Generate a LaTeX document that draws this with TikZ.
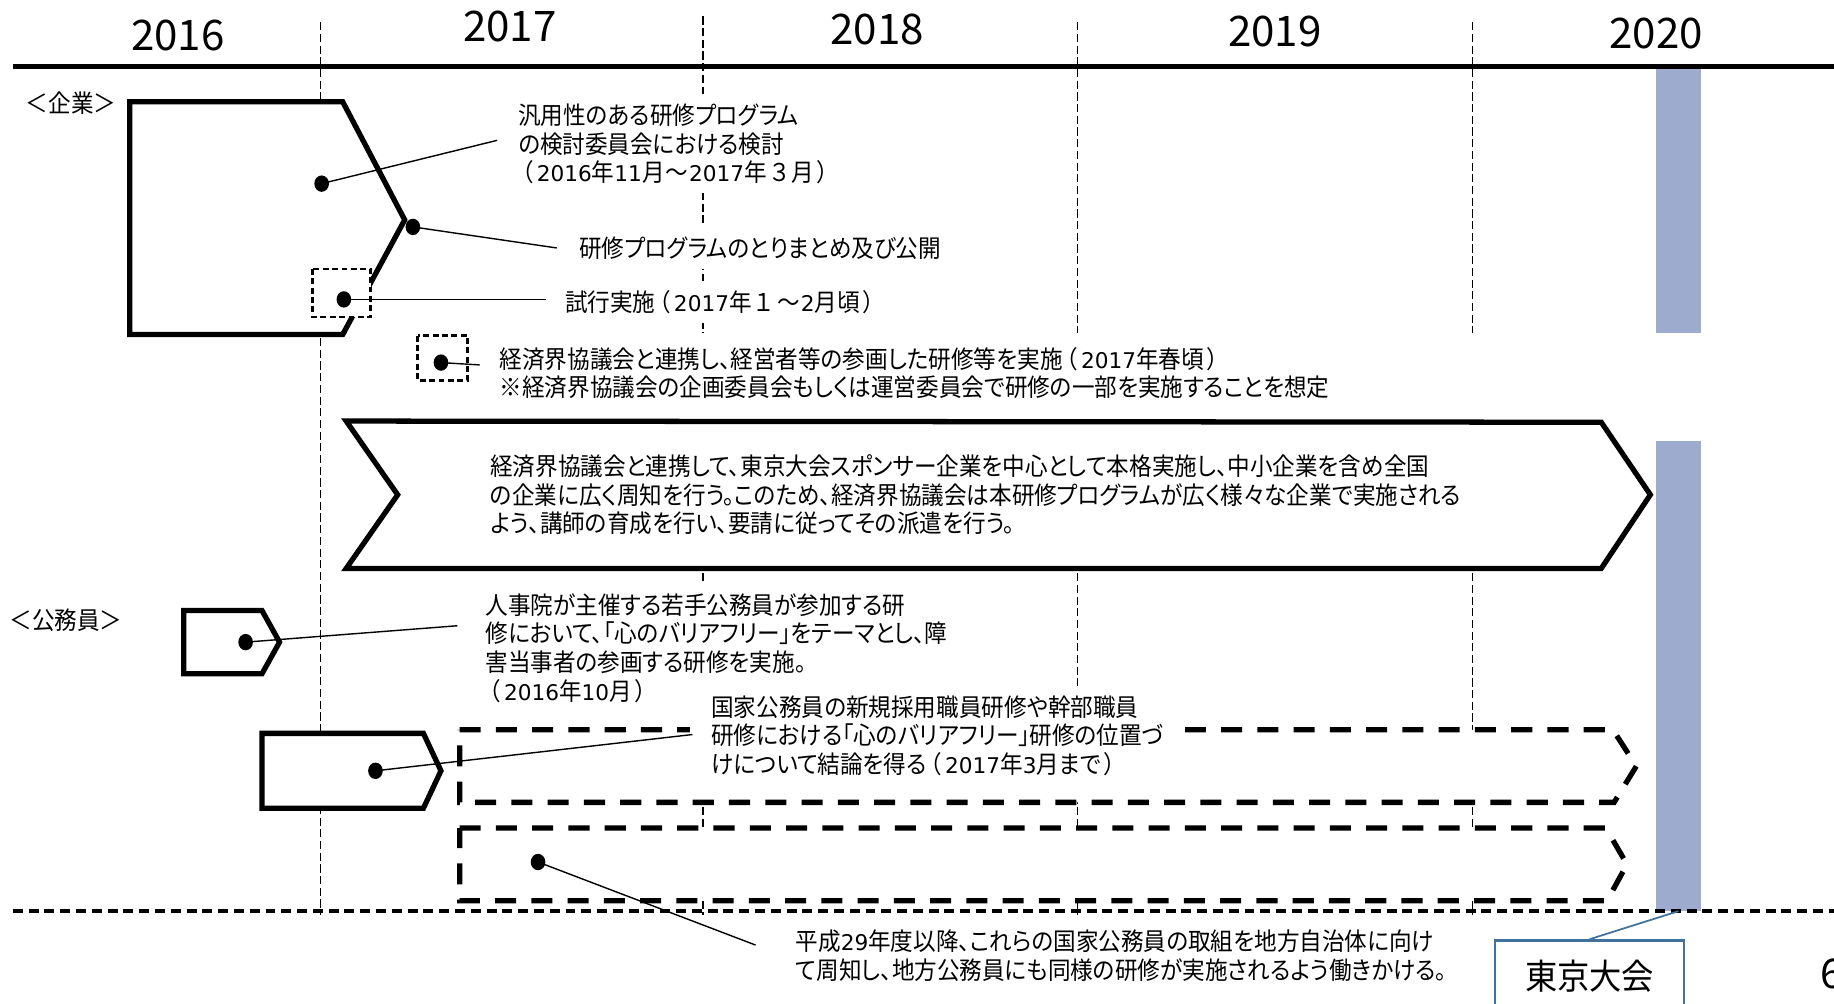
\documentclass[tikz,border=0pt]{standalone}
\usepackage{fontspec}
\setmainfont{Noto Sans CJK JP}[RawFeature=+palt,FakeStretch=0.92]
\newfontfamily\yrfont{Noto Sans CJK JP}
\newfontfamily\dgfont{DejaVu Sans}
\usetikzlibrary{shapes.geometric}
\newcommand\jlp{\makebox[0.75em][c]{（}}
\newcommand\jrp{\makebox[0.75em][c]{）}}
\newcommand\jfw[1]{\makebox[1em][c]{#1}}
\newcommand\dg[1]{{\dgfont\fontsize{18.5}{24.5}\selectfont #1}}
\definecolor{colblue}{RGB}{156,171,206}
\definecolor{tkblue}{RGB}{65,113,156}
\begin{document}
\begin{tikzpicture}[x=1pt,y=-1pt,
  vline/.style={line width=1.1pt,dash pattern=on 7pt off 3pt},
  solidshape/.style={draw,line width=4.5pt,fill=white,line join=miter},
  dshape/.style={draw,line width=4.5pt,fill=white,dash pattern=on 18pt off 13pt},
  dbox/.style={draw,line width=2.5pt,fill=white,dash pattern=on 5pt off 3pt},
  dot/.style={ellipse,fill=black,minimum width=12.5pt,minimum height=14pt,inner sep=0pt},
  conn/.style={line width=1.2pt},
  txt/.style={font=\fontsize{21}{24.5}\selectfont,align=left,anchor=west,fill=white,inner xsep=9pt,inner ysep=8pt},
  year/.style={font=\yrfont\fontsize{36}{40}\selectfont,inner sep=0pt},
  lab/.style={font=\fontsize{21}{24}\selectfont,anchor=west,inner sep=0pt}]
\useasboundingbox (0,0) rectangle (1568,858);
\clip (0,0) rectangle (1568,858);
% year separators
\draw[vline] (274,19) -- (274,782);
\draw[vline] (601,14) -- (601,285) (601,360) -- (601,782);
\draw[vline] (921,19) -- (921,285) (921,360) -- (921,782);
\draw[vline] (1259,19) -- (1259,285) (1259,360) -- (1259,782);
% 2020 column
\fill[colblue] (1416,58) rectangle (1454,285);
\fill[colblue] (1416,377) rectangle (1454,779);
% axis lines
\draw[line width=4.5pt] (11,57) -- (1568,57);
\draw[line width=3pt,dash pattern=on 8.5pt off 5pt] (11,779) -- (1568,779);
% shapes
\draw[solidshape] (111,87) -- (293,87) -- (346,188) -- (293,286) -- (111,286) -- cycle;
\draw[solidshape] (296,360) -- (1369,361) -- (1411,423) -- (1369,486) -- (296,486) -- (340,423) -- cycle;
\draw[solidshape] (157,522) -- (224,522) -- (239,549) -- (224,576) -- (157,576) -- cycle;
\draw[solidshape] (224,627) -- (362,627) -- (377,659) -- (362,691) -- (224,691) -- cycle;
\draw[dshape] (393,624) -- (1379,624) -- (1399,655) -- (1380,686) -- (393,686) -- cycle;
\draw[dshape] (393,708) -- (1373,708) -- (1391,739) -- (1374,770) -- (393,770) -- cycle;
\draw[dbox] (267,230) rectangle (317,271);
\draw[dbox] (357,287) rectangle (400,325);
% dots
\node[dot] (d1) at (275,157) {};
\node[dot] (d2) at (353,194) {};
\node[dot] (d3) at (294,256) {};
\node[dot] (d4) at (377,310) {};
\node[dot] (d6) at (210,549) {};
\node[dot] (d7) at (321,659) {};
\node[dot] (d8) at (460,737) {};
% texts
\node[txt] (t1) at (434,123) {汎用性のある研修プログラム\\の検討委員会における検討\\\jlp\dg{2016}年\dg{11}月\jfw{～}\dg{2017}年\jfw{３}月\jrp};
\node[txt] (t2) at (486,212) {研修プログラムのとりまとめ及び公開};
\node[txt] (t3) at (474,258) {試行実施\jlp\dg{2017}年\jfw{１}\jfw{～}\dg{2}月頃\jrp};
\node[txt] (t4) at (418,319) {経済界協議会と連携し、経営者等の参画した研修等を実施\jlp\dg{2017}年春頃\jrp\\※経済界協議会の企画委員会もしくは運営委員会で研修の一部を実施することを想定};
\node[txt] (t5) at (410,423) {経済界協議会と連携して、東京大会スポンサー企業を中心として本格実施し、中小企業を含め全国\\の企業に広く周知を行う。このため、経済界協議会は本研修プログラムが広く様々な企業で実施される\\よう、講師の育成を行い、要請に従ってその派遣を行う。};
\node[txt] (t6) at (406,554) {人事院が主催する若手公務員が参加する研\\修において、「心のバリアフリー」をテーマとし、障\\害当事者の参画する研修を実施。\\\jlp\dg{2016}年\dg{10}月\jrp};
\node[txt,inner xsep=18pt] (t7) at (590,629) {国家公務員の新規採用職員研修や幹部職員\\研修における「心のバリアフリー」研修の位置づ\\けについて結論を得る\jlp\dg{2017}年\dg{3}月まで\jrp};
\node[txt] (t8) at (671,817) {平成\dg{29}年度以降、これらの国家公務員の取組を地方自治体に向け\\て周知し、地方公務員にも同様の研修が実施されるよう働きかける。};
% connector ends
\coordinate (c1) at (425,120);
\coordinate (c2) at (476,212);
\coordinate (c3) at (467,256);
\coordinate (c4) at (410,312);
\coordinate (c6) at (391,535);
\coordinate (c7) at (592,628);
\coordinate (c8) at (646,808);
\draw[conn] (d1.center) -- (c1);
\draw[conn] (d2.center) -- (c2);
\draw[conn] (d3.center) -- (c3);
\draw[conn] (d4.center) -- (c4);
\draw[conn] (d6.center) -- (c6);
\draw[conn] (d7.center) -- (c7);
\draw[conn] (d8.center) -- (c8);
% years
\node[year] (y2016) at (152,30) {2016};
\node[year] (y2017) at (436,23) {2017};
\node[year] (y2018) at (750,25) {2018};
\node[year] (y2019) at (1090,27) {2019};
\node[year] (y2020) at (1416,29) {2020};
% category labels
\node[lab] (lkigyo) at (22,88) {＜企業＞};
\node[lab] (lkoumu) at (8,530) {＜公務員＞};
% Tokyo games
\node[draw=tkblue,line width=2pt,fill=white,minimum width=162pt,minimum height=62pt,font=\fontsize{30}{32}\selectfont] (tokyo) at (1359,835) {東京大会};
\coordinate (colbot) at (1435,779);
\draw[tkblue,line width=1.5pt] (tokyo.north) -- (colbot);
\node[font=\yrfont\fontsize{35}{36}\selectfont,anchor=west,inner sep=0pt] (pg) at (1556,833) {6};
\end{tikzpicture}
\end{document}
